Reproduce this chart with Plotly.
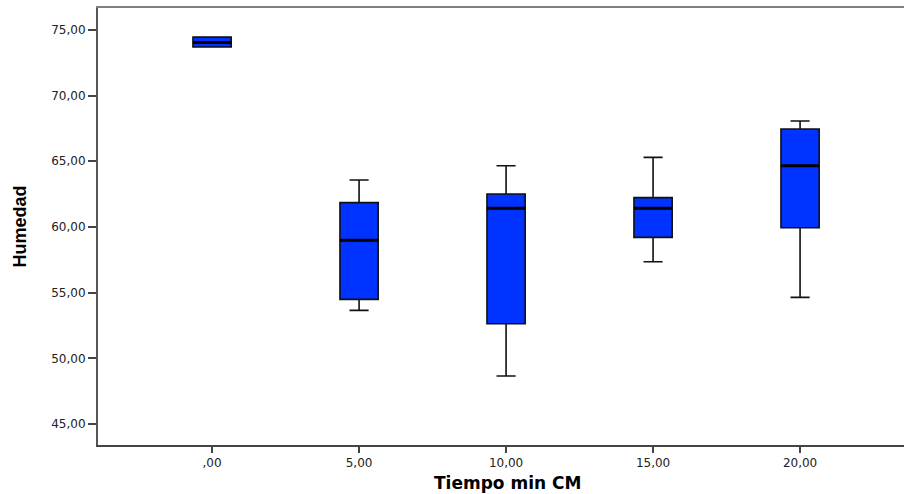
import plotly.graph_objects as go

# Data
categories = [",00", "5,00", "10,00", "15,00", "20,00"]
positions = [0, 1, 2, 3, 4]
lower_whisker = [73.70, 53.65, 48.65, 57.35, 54.64]
q1_values = [73.70, 54.49, 52.63, 59.21, 59.94]
median_values = [74.05, 58.98, 61.42, 61.42, 64.66]
q3_values = [74.45, 61.85, 62.51, 62.23, 67.46]
upper_whisker = [74.45, 63.58, 64.66, 65.30, 68.07]
y_ticks = [45, 50, 55, 60, 65, 70, 75]

BOX_W = 0.26
X_RANGE = [-0.776, 4.707]

fig = go.Figure()
fig.add_trace(go.Box(
    x=positions,
    q1=q1_values,
    median=median_values,
    q3=q3_values,
    lowerfence=lower_whisker,
    upperfence=upper_whisker,
    width=BOX_W,
    whiskerwidth=0.5,
    fillcolor="#0033ff",
    line=dict(color="#111111", width=1.6),
    showlegend=False,
    hoverinfo="skip",
))

# thicker median lines, drawn from the median data
mx, my = [], []
for p, m in zip(positions, median_values):
    mx += [p - BOX_W / 2, p + BOX_W / 2, None]
    my += [m, m, None]
fig.add_trace(go.Scatter(x=mx, y=my, mode="lines",
                         line=dict(color="#000000", width=3),
                         showlegend=False, hoverinfo="skip"))

# invisible trace so the top frame axis (x2) is drawn
fig.add_trace(go.Scatter(x=positions, y=median_values, xaxis="x2", mode="markers",
                         marker=dict(opacity=0), showlegend=False, hoverinfo="skip"))

fig.update_layout(
    width=904, height=494,
    margin=dict(l=98, r=0, t=8, b=49),
    paper_bgcolor="white",
    plot_bgcolor="white",
    separators=",.",
    font=dict(family="DejaVu Sans, Verdana, sans-serif", color="#222222"),
    xaxis=dict(
        range=X_RANGE,
        tickmode="array", tickvals=positions, ticktext=categories,
        showgrid=False, zeroline=False,
        showline=True, linecolor="#444444", linewidth=2,
        ticks="outside", ticklen=6, tickwidth=2, tickcolor="#444444",
        tickfont=dict(size=12, family="DejaVu Sans, Verdana, sans-serif", color="#222222"),
    ),
    xaxis2=dict(
        overlaying="x", side="top", range=X_RANGE,
        showgrid=False, zeroline=False, showticklabels=False, ticks="",
        showline=True, linecolor="#808080", linewidth=2,
    ),
    yaxis=dict(
        range=[43.4, 76.67],
        tickmode="array", tickvals=y_ticks, tickformat=".2f",
        showgrid=False, zeroline=False,
        showline=True, linecolor="#555555", linewidth=2,
        ticks="outside", ticklen=8, tickwidth=1.5, tickcolor="#444444",
        tickfont=dict(size=12, family="DejaVu Sans, Verdana, sans-serif", color="#222222"),
    ),
    annotations=[
        dict(text="<b>Humedad</b>", xref="paper", yref="paper", x=-0.0968, y=0.5,
             xanchor="center", yanchor="middle", textangle=-90, showarrow=False,
             font=dict(size=18, family="Liberation Sans Narrow, Arial Narrow, sans-serif", color="#000000")),
        dict(text="<b>Tiempo min CM</b>", xref="paper", yref="paper", x=0.508, y=-0.0863,
             xanchor="center", yanchor="middle", showarrow=False,
             font=dict(size=17, family="DejaVu Sans, Verdana, sans-serif", color="#000000")),
    ],
)

fig.write_html("out.html")
